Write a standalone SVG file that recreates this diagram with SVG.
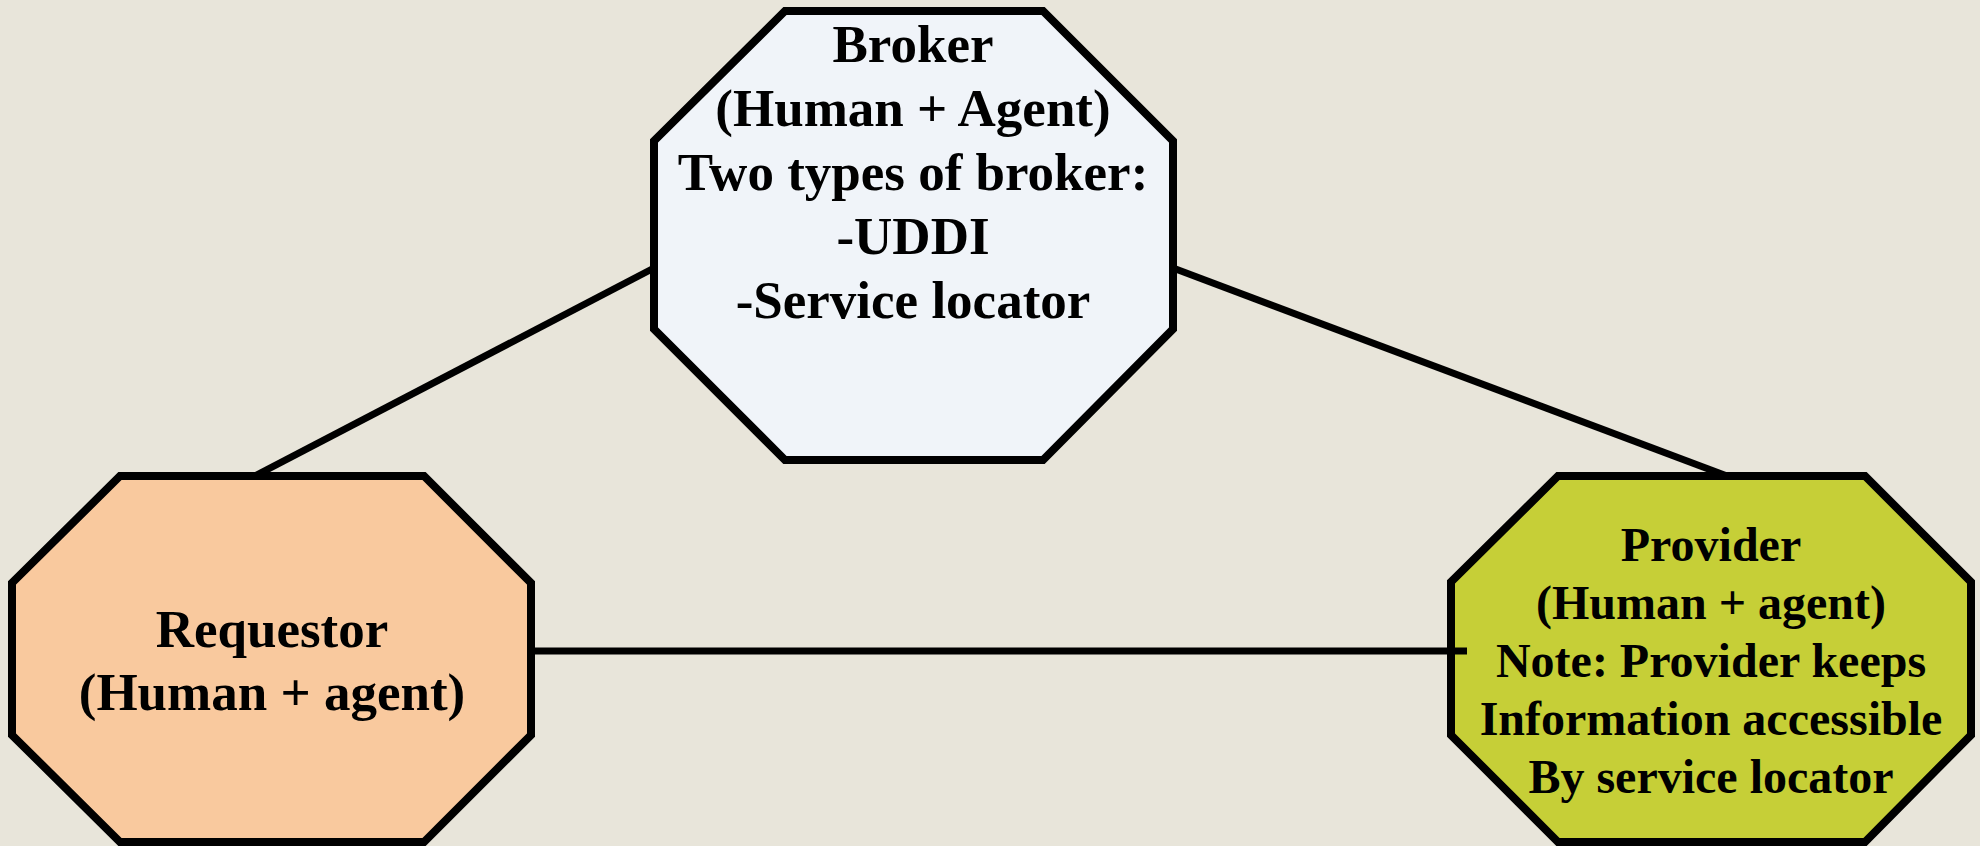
<svg xmlns="http://www.w3.org/2000/svg" width="1980" height="846" viewBox="0 0 1980 846">
<style>
.node{stroke:#000;stroke-width:8;stroke-linejoin:miter}
.conn{stroke:#000;stroke-width:7;fill:none}
.t{font-family:"Liberation Serif","Times New Roman",serif;font-weight:bold;text-anchor:middle;fill:#000}
.big{font-size:53px}
.small{font-size:48px}
</style>
<rect x="0" y="0" width="1980" height="846" fill="#e8e5da"/>
<g id="connectors">
<line class="conn" x1="255" y1="476" x2="654" y2="268"/>
<line class="conn" x1="1173" y1="268" x2="1727" y2="476"/>
</g>
<g id="broker">
<polygon class="node" fill="#f0f4f9" points="785,11 1043,11 1173,141 1173,329 1043,460 785,460 654,329 654,141"/>
<text class="t big" x="913" y="62">Broker</text>
<text class="t big" x="913" y="126">(Human + Agent)</text>
<text class="t big" x="913" y="190">Two types of broker:</text>
<text class="t big" x="913" y="254">-UDDI</text>
<text class="t big" x="913" y="318">-Service locator</text>
</g>
<g id="requestor">
<polygon class="node" fill="#f9c99e" points="120,476 424,476 531,583 531,735 424,842 120,842 12,735 12,583"/>
<text class="t big" x="272" y="647">Requestor</text>
<text class="t big" x="272" y="710">(Human + agent)</text>
</g>
<g id="provider">
<polygon class="node" fill="#c6cf37" points="1558,476 1865,476 1971,582 1971,735 1865,842 1558,842 1451,735 1451,582"/>
<text class="t small" x="1711" y="561">Provider</text>
<text class="t small" x="1711" y="619">(Human + agent)</text>
<text class="t small" x="1711" y="677">Note: Provider keeps</text>
<text class="t small" x="1711" y="735">Information accessible</text>
<text class="t small" x="1711" y="793">By service locator</text>
</g>
<g id="connectors-top">
<line class="conn" x1="531" y1="651" x2="1467" y2="651"/>
</g>
</svg>
